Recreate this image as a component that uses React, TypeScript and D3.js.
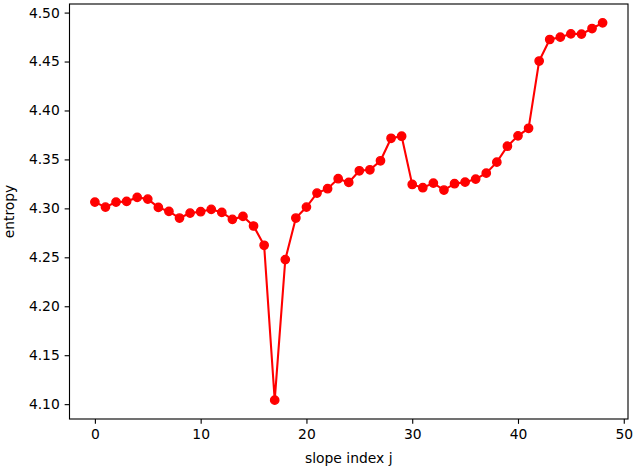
import React, { useEffect, useRef } from 'react'
import * as d3 from 'd3'

// entropy per slope index j
const slopeIndex: number[] = d3.range(0, 49)
const entropy: number[] = [
  4.3064, 4.3013, 4.3064, 4.3071, 4.3112, 4.3095, 4.301, 4.2969, 4.2901, 4.2952,
  4.2966, 4.299, 4.2959, 4.2888, 4.2918, 4.282, 4.2623, 4.1041, 4.2477, 4.2901,
  4.3013, 4.3156, 4.3201, 4.3303, 4.3265, 4.3384, 4.3394, 4.3486, 4.3716, 4.3737,
  4.3244, 4.3211, 4.3258, 4.3187, 4.3252, 4.3268, 4.3299, 4.336, 4.3472, 4.3635,
  4.3741, 4.3818, 4.4505, 4.4725, 4.4749, 4.4783, 4.478, 4.4837, 4.4895
]
const xTicks: number[] = [0, 10, 20, 30, 40, 50]
const yTicks: number[] = [4.1, 4.15, 4.2, 4.25, 4.3, 4.35, 4.4, 4.45, 4.5]

const useD3 = (renderChartFn: (svg: any) => void, dependencies: React.DependencyList) => {
  const ref = useRef<SVGSVGElement>(null)
  useEffect(() => {
    const svg = d3.select(ref.current)
    svg.select('.bounds').selectAll('*').remove()
    renderChartFn(svg)
  }, dependencies)
  return ref
}

const width = 633
const height = 470
const margin = { top: 4, right: 5, bottom: 51, left: 69.5 }
const pt = 100 / 72
const font = 'DejaVu Sans, sans-serif'

const EntropyChart = () => {
  const ref = useD3((svg: d3.Selection<SVGSVGElement, unknown, null, undefined>) => {
    const boundedWidth = width - margin.left - margin.right
    const boundedHeight = height - margin.top - margin.bottom
    const bounds = svg.select('.bounds')

    // matplotlib-style 5% margins
    const xPad = (d3.max(slopeIndex)! - d3.min(slopeIndex)!) * 0.05
    const [yMin, yMax] = d3.extent(entropy) as [number, number]
    const yPad = (yMax - yMin) * 0.05

    const xScale = d3
      .scaleLinear()
      .domain([d3.min(slopeIndex)! - xPad, d3.max(slopeIndex)! + xPad])
      .range([0, boundedWidth])
    const yScale = d3
      .scaleLinear()
      .domain([yMin - yPad, yMax + yPad])
      .range([boundedHeight, 0])

    const points = slopeIndex.map((j, i) => ({ x: j, y: entropy[i] }))

    const lineGenerator = d3
      .line<{ x: number; y: number }>()
      .x(d => xScale(d.x))
      .y(d => yScale(d.y))

    bounds
      .append('path')
      .attr('d', lineGenerator(points))
      .attr('fill', 'none')
      .attr('stroke', '#ff0000')
      .attr('stroke-width', 1.5 * pt)

    bounds
      .selectAll('circle')
      .data(points)
      .join('circle')
      .attr('cx', d => xScale(d.x))
      .attr('cy', d => yScale(d.y))
      .attr('r', 3 * pt)
      .attr('fill', '#ff0000')
      .attr('stroke', '#ff0000')
      .attr('stroke-width', 1 * pt)

    const xAxis = bounds
      .append('g')
      .attr('transform', `translate(0, ${boundedHeight})`)
      .call(
        d3
          .axisBottom(xScale)
          .tickValues(xTicks)
          .tickFormat(d3.format('d'))
          .tickSize(3.5 * pt)
          .tickPadding(3.5 * pt)
      )
    const yAxis = bounds
      .append('g')
      .call(
        d3
          .axisLeft(yScale)
          .tickValues(yTicks)
          .tickFormat(d3.format('.2f'))
          .tickSize(3.5 * pt)
          .tickPadding(3.5 * pt)
      )

    ;[xAxis, yAxis].forEach(axis => {
      axis.select('.domain').remove()
      axis.selectAll('line').attr('stroke', '#000').attr('stroke-width', 0.8 * pt)
      axis
        .selectAll('text')
        .attr('fill', '#000')
        .style('font-family', font)
        .style('font-size', `${10 * pt}px`)
    })

    // frame
    bounds
      .append('rect')
      .attr('x', 0)
      .attr('y', 0)
      .attr('width', boundedWidth)
      .attr('height', boundedHeight)
      .attr('fill', 'none')
      .attr('stroke', '#000')
      .attr('stroke-width', 0.8 * pt)

    bounds
      .append('text')
      .attr('x', boundedWidth / 2)
      .attr('y', boundedHeight + 44)
      .attr('text-anchor', 'middle')
      .style('font-family', font)
      .style('font-size', `${10 * pt}px`)
      .text('slope index j')

    bounds
      .append('text')
      .attr('transform', `translate(${-margin.left + 14}, ${boundedHeight / 2}) rotate(-90)`)
      .attr('text-anchor', 'middle')
      .style('font-family', font)
      .style('font-size', `${10 * pt}px`)
      .text('entropy')
  }, [])

  return (
    <svg
      ref={ref}
      width={width}
      height={height}
      style={{ position: 'absolute', left: 0, top: 0, background: '#fff' }}
    >
      <g className='bounds' transform={`translate(${margin.left}, ${margin.top})`} />
    </svg>
  )
}

const App = () => {
  return <EntropyChart />
}

export default App
